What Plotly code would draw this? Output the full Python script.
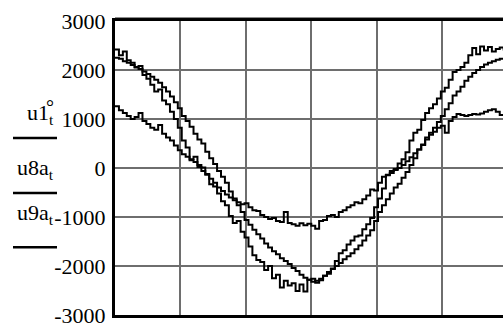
import plotly.graph_objects as go

# sampling: 100 samples, interval 0.06 (grid unit = 1)
sample_step = 0.06
n_samples = 100
t = [i * sample_step for i in range(n_samples)]

u1_t = [2420, 2300, 2380, 2200, 2150, 2050, 2080, 1900, 1820, 1700,
        1560, 1600, 1380, 1300, 1150, 1000, 820, 560, 420, 180,
        230, 20, -60, -140, -330, -380, -520, -680, -760, -980,
        -1120, -1080, -1300, -1420, -1600, -1780, -1880, -1920, -2080, -2000,
        -2250, -2180, -2440, -2300, -2400, -2350, -2510, -2380, -2520, -2280,
        -2260, -2340, -2290, -2200, -2160, -2050, -1900, -1740, -1680, -1560,
        -1480, -1400, -1380, -1250, -1150, -1020, -800, -620, -420, -150,
        -100, -20, 90, 180, 320, 560, 720, 780, 980, 1120,
        1220, 1300, 1420, 1560, 1640, 1800, 1960, 2000, 2060, 2150,
        2300, 2450, 2320, 2480, 2400, 2470, 2380, 2430, 2460, 2400]

u8a_t = [2250, 2230, 2180, 2150, 2100, 2060, 2020, 1970, 1920, 1860,
         1800, 1740, 1650, 1560, 1460, 1340, 1220, 1060, 960, 840,
         700, 580, 500, 330, 200, 80, -60, -180, -300, -480,
         -620, -760, -900, -1060, -1160, -1260, -1350, -1440, -1540, -1620,
         -1700, -1760, -1840, -1900, -1960, -2040, -2100, -2180, -2240, -2280,
         -2320, -2300, -2260, -2200, -2120, -2060, -2000, -1940, -1860, -1800,
         -1740, -1660, -1580, -1480, -1380, -1270, -1080, -900, -760, -640,
         -520, -400, -320, -200, -80, 60, 200, 380, 480, 620,
         720, 820, 940, 1060, 1200, 1320, 1480, 1560, 1660, 1780,
         1860, 1940, 2000, 2060, 2110, 2150, 2180, 2210, 2230, 2240]

u9a_t = [1260, 1180, 1120, 1060, 1000, 1040, 1120, 960, 900, 820,
         780, 880, 700, 620, 560, 460, 360, 280, 230, 160,
         120, 60, 10, -120, -220, -300, -400, -470, -540, -600,
         -660, -700, -740, -720, -800, -860, -880, -960, -1000, -1040,
         -1020, -1080, -1100, -900, -1120, -1150, -1180, -1130, -1170, -1140,
         -1180, -1240, -1080, -1060, -980, -960, -1000, -900, -860, -800,
         -760, -700, -720, -640, -560, -440, -460, -300, -180, -140,
         -60, -40, 0, 60, 140, 220, 300, 380, 470, 580,
         680, 740, 820, 860, 720, 960, 1040, 1100, 1080, 1060,
         1080, 1100, 1090, 1110, 1150, 1180, 1200, 1150, 1080, 1090]

y_tickvals = [3000, 2000, 1000, 0, -1000, -2000, -3000]
y_ticktext = ["3000", "2000", "1000", "0", "-1000", "-2000", "-3000"]

series = [("u1°t", u1_t), ("u8at", u8a_t), ("u9at", u9a_t)]

W, H = 503, 328
L, R, T, B = 115, 0, 21, 8
pw, ph = W - L - R, H - T - B


def px_x(p):
    return (p - L) / pw


def px_y(p):
    return (H - B - p) / ph


fig = go.Figure()
for name, vals in series:
    fig.add_trace(go.Scatter(x=t, y=vals, mode="lines", name=name,
                             line=dict(color="black", width=2, shape="hv"),
                             showlegend=False, hoverinfo="skip"))

font = "Liberation Serif, Times New Roman, serif"

fig.update_layout(
    width=W, height=H, autosize=False,
    margin=dict(l=L, r=R, t=T, b=B, pad=0),
    paper_bgcolor="white", plot_bgcolor="white",
    font=dict(family=font, color="black"),
    xaxis=dict(range=[0, 5.93], tick0=0, dtick=1, showgrid=True,
               gridcolor="#6e6e6e", gridwidth=2, zeroline=False,
               showticklabels=False, ticks="",
               showline=True, linecolor="black", linewidth=3, mirror=True),
    yaxis=dict(range=[-3000, 3000], tickvals=y_tickvals, ticktext=y_ticktext,
               showgrid=True, gridcolor="#6e6e6e", gridwidth=2, zeroline=False,
               ticks="", tickfont=dict(family=font, size=22, color="black"),
               ticklabelstandoff=2, ticklabeloverflow="allow",
               showline=True, linecolor="black", linewidth=3, mirror=False),
)

# thin double line above top border
fig.add_shape(type="line", xref="paper", yref="paper",
              x0=px_x(115), x1=px_x(503), y0=px_y(17.5), y1=px_y(17.5),
              line=dict(color="#888888", width=1))

# legend-like labels at the left
labels = [("u1<sub>t</sub>", 116, 140), ("u8a<sub>t</sub>", 172, 196), ("u9a<sub>t</sub>", 217, 251)]
for txt, ycen, yline in labels:
    fig.add_annotation(text=txt, xref="paper", yref="paper",
                       x=px_x(56), y=px_y(ycen), xanchor="right", yanchor="middle",
                       showarrow=False, font=dict(family=font, size=22, color="black"))
    fig.add_shape(type="line", xref="paper", yref="paper",
                  x0=px_x(13), x1=px_x(57), y0=px_y(yline), y1=px_y(yline),
                  line=dict(color="black", width=2.5))
fig.add_annotation(text="°", xref="paper", yref="paper",
                   x=px_x(50), y=px_y(108), xanchor="center", yanchor="middle",
                   showarrow=False, font=dict(family=font, size=20, color="black"))

fig.write_html("out.html", config={"displayModeBar": False},
               post_script="document.body.style.margin='0';document.body.style.overflow='hidden';")
